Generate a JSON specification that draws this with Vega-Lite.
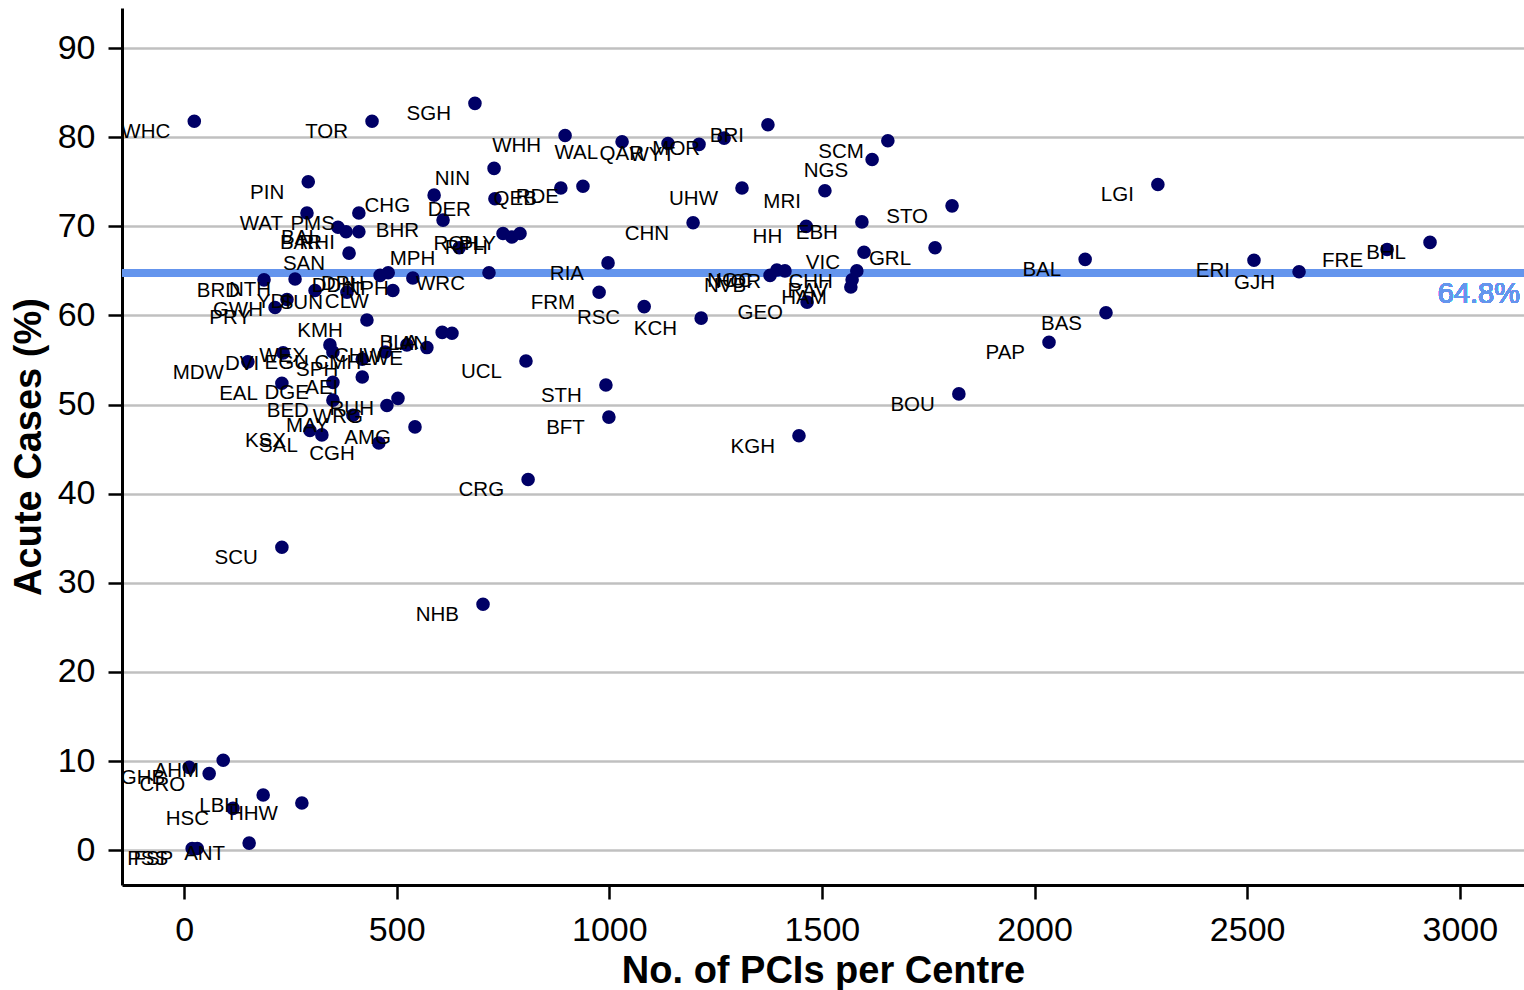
{
  "$schema": "https://vega.github.io/schema/vega-lite/v6.json",
  "width": 1402,
  "height": 877,
  "autosize": {"type": "none"},
  "padding": {"left": 122, "top": 8, "right": 0, "bottom": 105},
  "background": "white",
  "config": {
    "view": {"stroke": null},
    "font": "Liberation Sans",
    "axis": {"labelFont": "Liberation Sans", "titleFont": "Liberation Sans"}
  },
  "data": {"values": [
    {"c":"WHC","x":24,"y":81.8},{"c":"TOR","x":442,"y":81.8},{"c":"SGH","x":684,"y":83.8},
    {"c":"WHH","x":896,"y":80.2},{"c":"WAL","x":1030,"y":79.5},{"c":"QAR","x":1138,"y":79.3},
    {"c":"WYT","x":1211,"y":79.2},{"c":"MOR","x":1270,"y":79.9},{"c":"BRI","x":1373,"y":81.4},
    {"c":"SCM","x":1655,"y":79.6},{"c":"NGS","x":1618,"y":77.5},{"c":"MRI","x":1507,"y":74.0},
    {"c":"STO","x":1806,"y":72.3},{"c":"EBH","x":1594,"y":70.5},{"c":"HH","x":1463,"y":70.0},
    {"c":"GRL","x":1766,"y":67.6},{"c":"VIC","x":1599,"y":67.1},{"c":"CHH","x":1582,"y":65.0},
    {"c":"RAV","x":1571,"y":64.0},{"c":"HAM","x":1568,"y":63.2},{"c":"GEO","x":1465,"y":61.5},
    {"c":"LGI","x":2290,"y":74.7},{"c":"BAL","x":2119,"y":66.3},{"c":"ERI","x":2516,"y":66.2},
    {"c":"GJH","x":2622,"y":64.9},{"c":"FRE","x":2829,"y":67.4},{"c":"BHL","x":2930,"y":68.2},
    {"c":"BAS","x":2168,"y":60.3},{"c":"PAP","x":2034,"y":57.0},{"c":"BOU","x":1822,"y":51.2},
    {"c":"KGH","x":1446,"y":46.5},{"c":"STH","x":992,"y":52.2},{"c":"BFT","x":999,"y":48.6},
    {"c":"UCL","x":804,"y":54.9},{"c":"CRG","x":809,"y":41.6},{"c":"SCU","x":230,"y":34.0},
    {"c":"NHB","x":703,"y":27.6},{"c":"AHM","x":92,"y":10.1},{"c":"GHB","x":12,"y":9.3},
    {"c":"CRO","x":59,"y":8.6},{"c":"LBH","x":186,"y":6.2},{"c":"HHW","x":277,"y":5.3},
    {"c":"HSC","x":115,"y":4.7},{"c":"ANT","x":153,"y":0.8},{"c":"PSS","x":19,"y":0.2},
    {"c":"FSP","x":31,"y":0.2},{"c":"PIN","x":292,"y":75.0},{"c":"WAT","x":289,"y":71.5},
    {"c":"PMS","x":411,"y":71.5},{"c":"BAI","x":362,"y":69.9},{"c":"BAR","x":381,"y":69.4},
    {"c":"RHI","x":411,"y":69.4},{"c":"CHG","x":588,"y":73.5},{"c":"NIN","x":729,"y":76.5},
    {"c":"DER","x":731,"y":73.1},{"c":"BHR","x":609,"y":70.7},{"c":"QEB","x":886,"y":74.3},
    {"c":"RDE","x":938,"y":74.5},{"c":"UHW","x":1312,"y":74.3},{"c":"CHN","x":1197,"y":70.4},
    {"c":"SAN","x":388,"y":67.0},{"c":"MPH","x":647,"y":67.6},{"c":"ROH","x":750,"y":69.2},
    {"c":"RPH","x":771,"y":68.8},{"c":"PLY","x":790,"y":69.2},{"c":"WRC","x":717,"y":64.8},
    {"c":"RIA","x":997,"y":65.9},{"c":"FRM","x":976,"y":62.6},{"c":"RSC","x":1082,"y":61.0},
    {"c":"KCH","x":1216,"y":59.7},{"c":"NVB","x":1378,"y":64.5},{"c":"NOC","x":1394,"y":65.1},
    {"c":"HOR","x":1413,"y":65.0},{"c":"BRD","x":188,"y":64.0},{"c":"NTH","x":261,"y":64.1},
    {"c":"DDH","x":461,"y":64.5},{"c":"DPH","x":480,"y":64.8},{"c":"NPH","x":538,"y":64.2},
    {"c":"CLW","x":491,"y":62.8},{"c":"SUN","x":383,"y":62.6},{"c":"YDI","x":308,"y":62.8},
    {"c":"GWH","x":242,"y":61.8},{"c":"PRY","x":214,"y":60.9},{"c":"KMH","x":430,"y":59.5},
    {"c":"WEX","x":343,"y":56.7},{"c":"EGU","x":350,"y":55.9},{"c":"DVI","x":233,"y":55.8},
    {"c":"MDW","x":150,"y":54.8},{"c":"SPH","x":419,"y":55.1},{"c":"EAL","x":230,"y":52.4},
    {"c":"DGE","x":350,"y":52.5},{"c":"AEI","x":419,"y":53.1},{"c":"BED","x":350,"y":50.5},
    {"c":"WRG","x":477,"y":49.9},{"c":"RUH","x":503,"y":50.7},{"c":"MAY","x":397,"y":48.8},
    {"c":"KSX","x":296,"y":47.1},{"c":"SAL","x":324,"y":46.6},{"c":"CGH","x":458,"y":45.7},
    {"c":"AMG","x":543,"y":47.5},{"c":"BLA","x":607,"y":58.1},{"c":"LAN","x":630,"y":58.0},
    {"c":"CMH","x":473,"y":55.9},{"c":"CHW","x":524,"y":56.7},{"c":"LWE","x":571,"y":56.4}
  ]},
  "layer": [
    {
      "mark": {"type": "rule", "color": "#6495ED", "strokeWidth": 7},
      "encoding": {"y": {"datum": 64.8, "type": "quantitative"}}
    },
    {
      "mark": {"type": "circle", "size": 185, "color": "#000066", "opacity": 1},
      "encoding": {
        "x": {
          "field": "x", "type": "quantitative",
          "scale": {"domain": [-146, 3151], "nice": false, "zero": false},
          "axis": {
            "title": "No. of PCIs per Centre",
            "values": [0, 500, 1000, 1500, 2000, 2500, 3000],
            "format": "d",
            "grid": false,
            "domainColor": "black", "domainWidth": 3,
            "tickColor": "black", "tickWidth": 2.5, "tickSize": 14,
            "labelFontSize": 34, "labelColor": "black", "labelPadding": 14,
            "labelFlush": false, "labelOverlap": false,
            "titleFontSize": 38, "titleFontWeight": "bold", "titleColor": "black", "titlePadding": 5
          }
        },
        "y": {
          "field": "y", "type": "quantitative",
          "scale": {"domain": [-3.9, 94.5], "nice": false, "zero": false},
          "axis": {
            "title": "Acute Cases (%)",
            "values": [0, 10, 20, 30, 40, 50, 60, 70, 80, 90],
            "format": "d",
            "grid": true, "gridColor": "#c0c0c0", "gridWidth": 2.5,
            "domainColor": "black", "domainWidth": 3,
            "tickColor": "black", "tickWidth": 2.5, "tickSize": 14,
            "labelFontSize": 34, "labelColor": "black", "labelPadding": 13,
            "labelFlush": false, "labelOverlap": false,
            "titleFontSize": 38, "titleFontWeight": "bold", "titleColor": "black", "titlePadding": 9
          }
        }
      }
    },
    {
      "mark": {"type": "text", "align": "right", "baseline": "middle", "dx": -24, "dy": 11, "fontSize": 20.5, "color": "black", "font": "Liberation Sans"},
      "encoding": {
        "x": {"field": "x", "type": "quantitative"},
        "y": {"field": "y", "type": "quantitative"},
        "text": {"field": "c"}
      }
    },
    {
      "mark": {"type": "text", "align": "right", "baseline": "middle", "dx": -4, "dy": 21, "fontSize": 29, "fontWeight": "normal", "color": "#6495ED", "font": "Liberation Sans", "text": "64.8%"},
      "encoding": {
        "x": {"datum": 3151, "type": "quantitative"},
        "y": {"datum": 64.8, "type": "quantitative"}
      }
    }
  ]
}
